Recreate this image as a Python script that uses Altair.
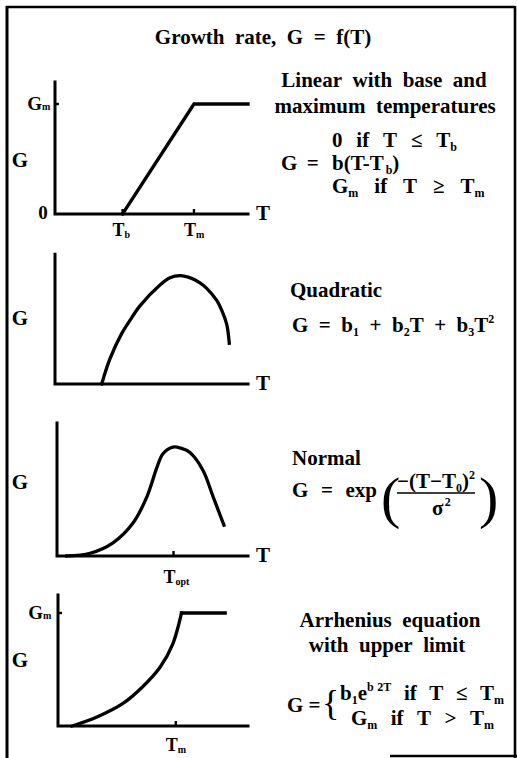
import re
import altair as alt
import pandas as pd

# ---------------------------------------------------------------- values
title_text = "Growth  rate,  G  =  f(T)"

# Linear response between base (Tb) and maximum (Tm) temperatures
lin_T = [3.5, 7.2, 10.0]
lin_G = [0.0, 1.0, 1.0]
lin_ticks = [3.5, 7.2]           # Tb, Tm
lin_tick_sub = ["b", "m"]

# Quadratic
quad_T = [2.42, 2.85, 3.46, 3.89, 4.40, 5.44, 5.96, 6.48, 7.08, 7.51, 7.86, 8.38, 8.64, 8.90, 9.03]
quad_G = [0.00, 0.23, 0.46, 0.58, 0.71, 0.90, 0.965, 0.985, 0.96, 0.92, 0.87, 0.76, 0.67, 0.54, 0.37]

# Normal
norm_T = [0.51, 1.73, 2.93, 3.98, 4.71, 5.24, 5.55, 6.07, 6.49, 6.96, 7.64, 8.17, 8.74]
norm_G = [0.00, 0.025, 0.12, 0.30, 0.54, 0.81, 0.93, 0.99, 0.98, 0.94, 0.78, 0.54, 0.28]
norm_ticks = [6.1]               # Topt

# Arrhenius with an upper limit
arr_T = [0.74, 2.05, 3.42, 4.47, 5.37, 6.05, 6.5]
arr_G = [0.00, 0.08, 0.20, 0.35, 0.52, 0.73, 1.00]
arr_cap_T = [6.5, 8.8]
arr_cap_G = [1.0, 1.0]
arr_ticks = [6.2]                # Tm

# axis extents: T runs 0..10, G runs 0..top
axis_T_end = 10.0
axis_G_top = [1.2, 1.18, 1.21, 1.16]

# ---------------------------------------------------------------- layout
FONT = "Liberation Serif"
FS = 21
SUB = 12
INK = "black"

PANELS = [
    dict(x0=55, x1=248, y0=214, y1=104, gy=160),
    dict(x0=55, x1=248, y0=384, y1=274, gy=318),
    dict(x0=57, x1=248, y0=556, y1=446, gy=482),
    dict(x0=58, x1=248, y0=726, y1=613, gy=660),
]

# Times-Bold advance widths (per 1000 em), used to chain text runs
W = {" ": 250, "(": 333, ")": 333, "+": 570, ",": 250, "-": 333,
     "0": 500, "1": 500, "2": 500, "3": 500, "=": 570, ">": 570, "<": 570,
     "G": 778, "T": 667, "a": 500, "b": 556, "e": 444, "f": 333, "i": 278,
     "m": 833, "p": 556, "t": 333, "x": 500, "\u2264": 549, "\u2265": 549,
     "\u2212": 570, "\u03c3": 603}


def tw(s, size):
    return sum(W.get(c, 500) for c in s) * size / 1000.0


layers = []
ONE = alt.Data(values=[{}])


def txt(s, x, base, size=FS, align="left", weight="bold"):
    data = alt.Data(values=[{"label": s.replace(" ", "\u00a0")}])
    layers.append(
        alt.Chart(data).mark_text(
            font=FONT, fontSize=size, fontWeight=weight,
            align=align, baseline="alphabetic", color=INK,
        ).encode(x=alt.value(x), y=alt.value(base), text="label:N")
    )


def mid(ym, size=FS):
    return ym + 0.34 * size


def words(s, x, base, size, sp):
    # place each word on its own so gaps never collapse
    for tok in re.split(r"( )", s):
        if tok == "":
            continue
        if tok == " ":
            x += sp * size
        else:
            txt(tok, x, base, size)
            x += tw(tok, size)
    return x


def run(x, ym, parts, sp=0.33):
    base = mid(ym)
    for s, kind in parts:
        if kind == "n":
            x = words(s, x, base, FS, sp)
        elif kind == "s":
            x = words(s, x, base + 4, SUB, sp)
        else:
            x = words(s, x, base - 9, SUB, sp)
    return x


def rule(x, y, x2=None, y2=None, w=2.6):
    enc = dict(x=alt.value(x), y=alt.value(y))
    if x2 is not None:
        enc["x2"] = alt.value(x2)
    if y2 is not None:
        enc["y2"] = alt.value(y2)
    layers.append(alt.Chart(ONE).mark_rule(color=INK, strokeWidth=w).encode(**enc))


def xs(p):
    return alt.X("T:Q", axis=None,
                 scale=alt.Scale(domain=[0, 10], range=[p["x0"], p["x1"]], nice=False, zero=False))


def ys(p):
    return alt.Y("G:Q", axis=None,
                 scale=alt.Scale(domain=[0, 1], range=[p["y0"], p["y1"]], nice=False, zero=False))


def line(p, T, G, interp="linear", w=3.3):
    df = pd.DataFrame({"T": T, "G": G, "i": list(range(len(T)))})
    layers.append(
        alt.Chart(df).mark_line(interpolate=interp, color=INK, strokeWidth=w,
                                strokeCap="square", strokeJoin="miter")
        .encode(x=xs(p), y=ys(p), order=alt.Order("i:Q"))
    )


def x_ticks(p, ticks, subs, label_y):
    df = pd.DataFrame({"T": ticks, "s": subs, "t": ["T"] * len(ticks)})
    base = alt.Chart(df)
    layers.append(base.mark_rule(color=INK, strokeWidth=2.4)
                  .encode(x=xs(p), y=alt.value(p["y0"]), y2=alt.value(p["y0"] - 5)))
    layers.append(base.mark_text(font=FONT, fontSize=FS - 3, fontWeight="bold",
                                 align="center", baseline="alphabetic", dx=-4, color=INK)
                  .encode(x=xs(p), y=alt.value(mid(label_y, FS - 3)), text="t:N"))
    layers.append(base.mark_text(font=FONT, fontSize=SUB - 2, fontWeight="bold",
                                 align="left", baseline="alphabetic", dx=2, color=INK)
                  .encode(x=xs(p), y=alt.value(mid(label_y, FS - 3) + 2), text="s:N"))


def gm_tick(p, label_right):
    df = pd.DataFrame({"G": [1.0], "g": ["G"], "m": ["m"]})
    base = alt.Chart(df)
    layers.append(base.mark_rule(color=INK, strokeWidth=2.4)
                  .encode(y=ys(p), x=alt.value(p["x0"]), x2=alt.value(p["x0"] + 4)))
    layers.append(base.mark_text(font=FONT, fontSize=FS - 2, fontWeight="bold",
                                 align="right", baseline="middle", color=INK)
                  .encode(y=ys(p), x=alt.value(label_right - 9), text="g:N"))
    layers.append(base.mark_text(font=FONT, fontSize=SUB - 2, fontWeight="bold",
                                 align="left", baseline="middle", dy=3, color=INK)
                  .encode(y=ys(p), x=alt.value(label_right - 9), text="m:N"))


# ---------------------------------------------------------------- frame
rule(6, 7, x2=515, y2=7)
rule(7, 6, y2=758, w=3)
rule(515, 6, y2=758)
rule(390, 756, x2=517, y2=756)

# ---------------------------------------------------------------- title
txt(title_text, 263, mid(37), FS, align="center")

# ---------------------------------------------------------------- axes
for k, p in enumerate(PANELS):
    line(p, [0, 0, axis_T_end], [axis_G_top[k], 0, 0], w=3.0)
    txt("G", 20, mid(p["gy"]), FS, align="center")

for k in range(3):
    p = PANELS[k]
    txt("T", 263, mid(p["y0"] - 1), FS, align="center")

# ---------------------------------------------------------------- panel 1
p = PANELS[0]
line(p, lin_T, lin_G)
gm_tick(p, 51)
txt("0", 43, mid(212), FS - 2, align="center")
x_ticks(p, lin_ticks, lin_tick_sub, 230)

txt("Linear  with  base  and", 384, mid(80), FS, align="center")
txt("maximum  temperatures", 385, mid(106), FS, align="center")
run(281, 163, [("G =", "n")], sp=0.45)
run(332, 140, [("0  if  T  \u2264  T", "n"), ("b", "s")])
run(332, 163, [("b(T-T", "n"), ("b", "s"), (")", "n")])
run(332, 186, [("G", "n"), ("m", "s"), ("  if  T  \u2265  T", "n"), ("m", "s")], sp=0.38)

# ---------------------------------------------------------------- panel 2
p = PANELS[1]
line(p, quad_T, quad_G, "catmull-rom")
txt("Quadratic", 290, mid(290), FS)
run(292, 325, [("G  =  b", "n"), ("1", "s"), ("  +  b", "n"), ("2", "s"),
               ("T  +  b", "n"), ("3", "s"), ("T", "n"), ("2", "p")], sp=0.25)

# ---------------------------------------------------------------- panel 3
p = PANELS[2]
line(p, norm_T, norm_G, "catmull-rom")
x_ticks(p, norm_ticks, ["opt"], 577)
txt("Normal", 292, mid(458), FS)
run(292, 490, [("G  =  exp", "n")], sp=0.3)
txt("(", 381, 517, 58, weight="normal")
txt(")", 479, 517, 58, weight="normal")
rule(397, 493, x2=475, y2=493, w=1.6)
run(397, 481, [("\u2212(T\u2212T", "n"), ("0", "s"), (")", "n"), ("2", "p")])
run(432, 508, [("\u03c3", "n"), ("2", "p")])

# ---------------------------------------------------------------- panel 4
p = PANELS[3]
line(p, arr_T, arr_G, "catmull-rom")
line(p, arr_cap_T, arr_cap_G)
gm_tick(p, 52)
x_ticks(p, arr_ticks, ["m"], 745)
txt("Arrhenius  equation", 390, mid(620), FS, align="center")
txt("with  upper  limit", 387, mid(645), FS, align="center")
run(287, 705, [("G =", "n")], sp=0.25)
txt("{", 322, 715, 36, weight="normal")
run(340, 693, [("b", "n"), ("1", "s"), ("e", "n"), ("b 2T", "p"),
               ("  if  T  \u2264  T", "n"), ("m", "s")], sp=0.3)
run(351, 718, [("G", "n"), ("m", "s"), ("  if  T  >  T", "n"), ("m", "s")], sp=0.32)

chart = (
    alt.layer(*layers)
    .resolve_scale(x="independent", y="independent")
    .properties(width=517, height=758, padding=0,
                autosize=alt.AutoSizeParams(type="none"), background="white")
    .configure_view(stroke=None)
)

chart.save("out.html", embed_options={"renderer": "svg", "actions": False})
